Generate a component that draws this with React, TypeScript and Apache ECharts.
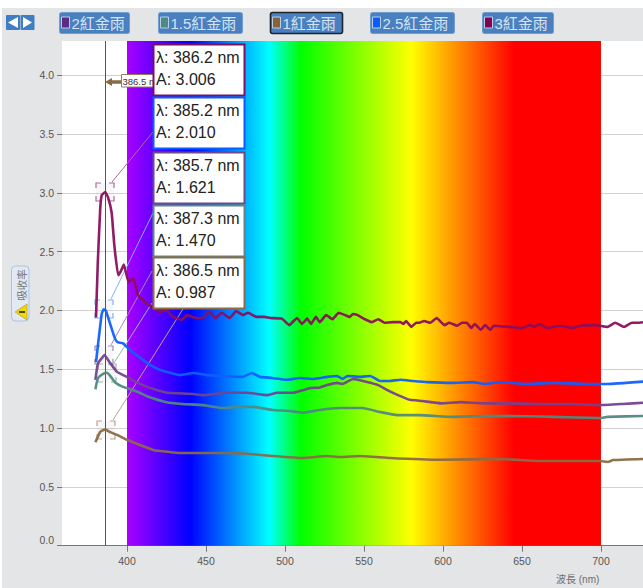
import React, { useEffect, useRef } from "react";
import * as echarts from "echarts";

const spectrumStart = 400;
const spectrumEnd = 700;
const xTicks = [400, 450, 500, 550, 600, 650, 700];
const yTicks = [0, 0.5, 1, 1.5, 2, 2.5, 3, 3.5, 4];
const cursorWavelength = 386.5;
const cursorLabel = "386.5 n";
const axisTitleX = "波長 (nm)";
const axisTitleY = "吸收率";

const seriesNames = ["2紅金雨", "1.5紅金雨", "1紅金雨", "2.5紅金雨", "3紅金雨"];

const rain3 = [
  [380.4, 1.94], [381.5, 2.4], [383, 2.85], [384, 2.98], [386.2, 3.006], [388, 2.96], [390.3, 2.83], [392, 2.55], [394.4, 2.3], [396, 2.33], [398, 2.39],
  [401, 2.24], [404, 2.27], [407, 2.13], [412.6, 2.06], [421, 1.99], [425, 2.0], [429, 1.945], [435, 1.92], [438, 1.96], [444, 1.935],
  [448, 1.935], [452, 1.99], [456, 1.935], [460, 1.98], [465, 1.935], [469, 1.995], [473.4, 1.96], [476.6, 1.98], [482, 1.945], [487, 1.945],
  [490.5, 1.935], [498, 1.93], [502.7, 1.875], [507.6, 1.935], [510.8, 1.885], [514, 1.93], [516.5, 1.885], [519.6, 1.945], [522, 1.9], [526, 1.96],
  [530, 1.925], [534, 1.98], [538, 1.96], [541, 1.945], [543, 1.97], [546, 1.96], [550.6, 1.925], [555, 1.9], [559, 1.925], [563, 1.895],
  [568, 1.9], [573, 1.9], [575, 1.885], [576.6, 1.91], [580, 1.86], [583, 1.895], [585, 1.895], [588, 1.91], [592, 1.895], [596, 1.935],
  [601, 1.875], [604, 1.895], [609, 1.87], [612, 1.895], [615, 1.895], [618, 1.85], [620, 1.885], [624, 1.835], [626.6, 1.875], [630, 1.835],
  [632, 1.87], [642, 1.86], [650, 1.85], [655, 1.875], [658, 1.86], [661, 1.885], [666, 1.85], [674, 1.87], [682, 1.85], [687, 1.87],
  [696, 1.875], [704, 1.86], [709, 1.895], [714.6, 1.86], [719.6, 1.895], [723, 1.895], [726.6, 1.9],
];

const rain25 = [
  [380.4, 1.56], [382, 1.75], [384, 1.97], [385.2, 2.01], [386.5, 2.0], [389, 1.9], [392.4, 1.76], [394, 1.73], [397.5, 1.72], [403, 1.65],
  [410, 1.58], [414.6, 1.537], [421, 1.494], [433.5, 1.45], [442, 1.468], [450.6, 1.45], [463, 1.44], [473, 1.435], [479, 1.468], [484, 1.435],
  [492, 1.426], [501, 1.41], [509.5, 1.426], [518, 1.417], [526.6, 1.435], [533, 1.443], [536.5, 1.417], [539.5, 1.443], [547.5, 1.435], [554, 1.443],
  [560, 1.4], [566, 1.4], [573, 1.41], [581, 1.4], [590, 1.39], [606, 1.384], [619, 1.39], [626.6, 1.375], [636, 1.39], [653, 1.375],
  [670, 1.384], [691, 1.375], [704, 1.375], [726.6, 1.395],
];

const rain2 = [
  [380, 1.41], [381.6, 1.55], [385, 1.61], [385.7, 1.621], [389, 1.56], [393.5, 1.48], [397.5, 1.45], [400, 1.435], [403, 1.41], [412.6, 1.35],
  [421, 1.315], [425, 1.3], [442, 1.29], [448, 1.28], [463, 1.3], [476, 1.3], [488.6, 1.28], [495, 1.3], [505, 1.3], [516, 1.34],
  [522, 1.345], [526.6, 1.365], [533, 1.384], [536.5, 1.375], [543, 1.417], [552.5, 1.39], [559, 1.365], [564.5, 1.325], [571.5, 1.28], [579, 1.24],
  [587, 1.23], [599, 1.21], [611, 1.22], [626.6, 1.21], [640, 1.21], [661, 1.205], [682, 1.205], [699, 1.195], [714, 1.205], [726.6, 1.215],
];

const rain15 = [
  [380, 1.33], [381.6, 1.425], [385.5, 1.465], [387.3, 1.47], [389, 1.45], [392.4, 1.39], [397.5, 1.35], [400, 1.34], [408, 1.3], [412.6, 1.27],
  [425, 1.22], [435, 1.205], [448, 1.195], [461, 1.17], [469.6, 1.18], [480, 1.18], [492, 1.154], [503, 1.145], [511.5, 1.13], [522, 1.154],
  [535, 1.17], [549, 1.17], [560, 1.137], [571, 1.11], [585, 1.11], [606, 1.095], [628, 1.103], [653, 1.1], [670, 1.095], [699, 1.085],
  [704, 1.095], [726.6, 1.103],
];

const rain1 = [
  [380, 0.88], [383, 0.967], [385.5, 0.985], [386.5, 0.987], [389, 0.967], [394, 0.94], [400, 0.9], [416.6, 0.814], [421, 0.805], [433.5, 0.788],
  [448, 0.788], [463, 0.788], [477.8, 0.78], [492, 0.763], [511, 0.745], [526.6, 0.763], [534.8, 0.754], [547.5, 0.763], [566.5, 0.745], [598, 0.73],
  [636, 0.737], [661, 0.72], [699, 0.72], [704.4, 0.712], [707.6, 0.728], [726.6, 0.737],
];

const peakWavelengths = [386.2, 385.2, 385.7, 387.3, 386.5];
const peakValues = [3.006, 2.01, 1.621, 1.47, 0.987];
const peakTexts = peakValues.map((v) => v.toFixed(3));

const lineColors = ["#74428f", "#4f8a80", "#8b6a45", "#0f5fff", "#8a0f5e"];
const swatchColors = ["#5f2a85", "#4f8a80", "#8a6238", "#0a5cff", "#85004f"];
const peakBorders = ["#7c1060", "#0a5cff", "#6b4a8a", "#5d8a80", "#8b6b4a"];
const peakGuides = ["#b06a98", "#7fb0ff", "#a08ab8", "#9ab8b0", "#b9a58e"];
const boxTops = [44, 97, 152, 205, 257];
const guideEnds = [[153, 132], [153, 213], [152, 271], [152, 303], [183, 309]];
const buttons = [
  { x: 59, w: 70, sel: false }, { x: 158, w: 84, sel: false }, { x: 270, w: 72, sel: true },
  { x: 370, w: 84, sel: false }, { x: 482, w: 71, sel: false },
];

const gridLeft = 62;
const gridTop = 41;
const gridW = 581;
const gridH = 504.7;
const FONT = "'Liberation Sans', Arial, sans-serif";
const CJK = "'Liberation Sans', 'Noto Sans CJK TC', sans-serif";

function renderPeak(params: any, api: any) {
  const i = params.dataIndex;
  const [cx, cy] = api.coord([api.value(0), api.value(1)]);
  const h = 9;
  const c = 5;
  const col = peakGuides[i];
  const s = { stroke: col, lineWidth: 1.2, fill: "none" };
  const x0 = Math.round(cx) - h;
  const x1 = Math.round(cx) + h;
  const y0 = Math.round(cy) - h;
  const y1 = Math.round(cy) + h;
  const corner = (p: number[][]) => ({ type: "polyline", shape: { points: p }, style: s, silent: true });
  return {
    type: "group",
    children: [
      { type: "rect", shape: { x: x0, y: y0, width: 2 * h, height: 2 * h }, style: { fill: "rgba(0,0,0,0.03)" } },
      corner([[x0, y0 + c], [x0, y0], [x0 + c, y0]]),
      corner([[x1 - c, y0], [x1, y0], [x1, y0 + c]]),
      corner([[x0, y1 - c], [x0, y1], [x0 + c, y1]]),
      corner([[x1 - c, y1], [x1, y1], [x1, y1 - c]]),
      { type: "line", shape: { x1: x1 - 2, y1: y0 - 1, x2: guideEnds[i][0], y2: guideEnds[i][1] }, style: { stroke: col, lineWidth: 1 } },
    ],
  };
}

function buildGraphics() {
  const el: any[] = [];
  const z = 60;
  el.push({ type: "rect", z, shape: { x: 6, y: 15, width: 14, height: 15, r: 1 }, style: { fill: "#3f7dc4" } });
  el.push({ type: "rect", z, shape: { x: 20.5, y: 15, width: 14, height: 15, r: 1 }, style: { fill: "#3f7dc4" } });
  el.push({ type: "polygon", z: z + 1, shape: { points: [[8, 22.5], [18, 17], [18, 28]] }, style: { fill: "#fff" } });
  el.push({ type: "polygon", z: z + 1, shape: { points: [[32, 22.5], [23, 17], [23, 28]] }, style: { fill: "#fff" } });
  seriesNames.forEach((name, i) => {
    const b = buttons[i];
    el.push({
      type: "rect", z,
      shape: { x: b.x + 0.5, y: 12.5, width: b.w, height: 21, r: 2 },
      style: { fill: "#4a80c0", stroke: b.sel ? "#1b2430" : "#6e9bd0", lineWidth: b.sel ? 1.6 : 1 },
    });
    el.push({
      type: "rect", z: z + 1,
      shape: { x: b.x + 2.5, y: 17, width: 8, height: 11 },
      style: { fill: swatchColors[i], stroke: "#b8cde6", lineWidth: 1 },
    });
    el.push({
      type: "text", z: z + 1, x: b.x + 12.5, y: 23,
      style: { text: name, fill: "#d6e3f3", font: `15px ${CJK}`, textVerticalAlign: "middle" },
    });
  });
  el.push({
    type: "rect", z,
    shape: { x: 11.5, y: 266, width: 17.5, height: 55, r: 4 },
    style: { fill: "#e2e9f2", stroke: "#a7c4e4", lineWidth: 1 },
  });
  el.push({
    type: "text", z: z + 1, x: 21, y: 285, rotation: Math.PI / 2,
    style: { text: axisTitleY, fill: "#777", font: "10.5px 'Noto Sans CJK TC'", textAlign: "center", textVerticalAlign: "middle" },
  });
  el.push({ type: "polygon", z: z + 1, shape: { points: [[15, 312], [27, 304], [27, 320]] }, style: { fill: "#f2da00", stroke: "#b8a64a", lineWidth: 0.8 } });
  el.push({ type: "line", z: z + 2, shape: { x1: 19, y1: 312, x2: 25, y2: 312 }, style: { stroke: "#222", lineWidth: 1.6 } });
  el.push({
    type: "text", z: z + 1, x: 556, y: 579,
    style: { text: axisTitleX, fill: "#6d6d6d", font: `10px ${CJK}`, textVerticalAlign: "middle" },
  });
  el.push({ type: "line", z, shape: { x1: 111, y1: 82, x2: 121, y2: 82 }, style: { stroke: "#8b6a45", lineWidth: 3.5 } });
  el.push({ type: "polygon", z, shape: { points: [[105, 82], [112, 78], [112, 86]] }, style: { fill: "#8b6a45" } });
  el.push({
    type: "rect", z,
    shape: { x: 121.5, y: 74.5, width: 40, height: 12.5 },
    style: { fill: "#fff", stroke: "#9a7a58", lineWidth: 1 },
  });
  el.push({
    type: "text", z: z + 1, x: 122.5, y: 81,
    style: { text: cursorLabel, fill: "#333", font: `9.5px ${FONT}`, textVerticalAlign: "middle" },
  });
  peakWavelengths.forEach((w, i) => {
    const top = boxTops[i];
    el.push({
      type: "rect", z: z + 5,
      shape: { x: 153.5, y: top + 0.5, width: 91, height: 51 },
      style: { fill: "#fff", stroke: peakBorders[i], lineWidth: 2 },
    });
    el.push({
      type: "text", z: z + 6, x: 156, y: top + 13,
      style: { text: `λ: ${w.toFixed(1)} nm`, fill: "#222", font: `16px ${FONT}`, textVerticalAlign: "middle" },
    });
    el.push({
      type: "text", z: z + 6, x: 156, y: top + 35,
      style: { text: `A: ${peakTexts[i]}`, fill: "#222", font: `16px ${FONT}`, textVerticalAlign: "middle" },
    });
  });
  return el;
}

export default function App() {
  const ref = useRef<HTMLDivElement>(null);
  useEffect(() => {
    const chart = echarts.init(ref.current!, null, { renderer: "svg" });
    const gradient = new echarts.graphic.LinearGradient(0, 0, 1, 0, [
      { offset: 0, color: "#aa00ff" },
      { offset: 40 / 300, color: "#0000ff" },
      { offset: 90 / 300, color: "#00ffff" },
      { offset: 110 / 300, color: "#00ff00" },
      { offset: 180 / 300, color: "#ffff00" },
      { offset: 245 / 300, color: "#ff0000" },
      { offset: 1, color: "#ff0000" },
    ]);
    const rows = [rain2, rain15, rain1, rain25, rain3];
    const lineSeries = seriesNames.map((name, i) => ({
      type: "line",
      name,
      data: rows[i],
      z: 5 + i,
      symbol: "none",
      smooth: 0.12,
      silent: true,
      clip: true,
      lineStyle: { color: lineColors[i], width: 2.6, opacity: 0.95 },
      itemStyle: { color: lineColors[i] },
    }));
    chart.setOption({
      animation: false,
      backgroundColor: "transparent",
      textStyle: { fontFamily: FONT },
      grid: {
        left: gridLeft, top: gridTop, width: gridW, height: gridH,
        show: true, backgroundColor: "#ffffff", borderWidth: 0, containLabel: false,
      },
      xAxis: {
        type: "value",
        min: 358.86,
        max: 726.6,
        axisLine: { show: true, onZero: false, lineStyle: { color: "#777", width: 1 } },
        axisTick: { show: true, length: 6, customValues: xTicks, lineStyle: { color: "#777" } },
        axisLabel: { customValues: xTicks, color: "#555", fontSize: 10.5, margin: 10, formatter: (v: number) => String(v) },
        splitLine: { show: false },
      },
      yAxis: {
        type: "value",
        min: 0,
        max: 4.29,
        axisLine: { show: false },
        axisTick: { show: true, length: 5, customValues: yTicks, lineStyle: { color: "#777" } },
        axisLabel: {
          customValues: yTicks, color: "#555", fontSize: 10.5, margin: 8,
          formatter: (v: number) => v.toFixed(1), verticalAlignMinLabel: "bottom",
        },
        splitLine: { show: true, lineStyle: { color: "#d2d2d2", width: 1 } },
      },
      series: [
        {
          type: "line",
          name: "spectrum",
          data: [[spectrumStart, 0]],
          z: 1,
          symbol: "none",
          silent: true,
          lineStyle: { opacity: 0 },
          markArea: {
            silent: true,
            itemStyle: { color: gradient, opacity: 1 },
            data: [[{ xAxis: spectrumStart, yAxis: 0 }, { xAxis: spectrumEnd, yAxis: 4.29 }]],
          },
          markLine: {
            silent: true,
            symbol: "none",
            label: { show: false },
            lineStyle: { color: "#555", width: 1, type: "solid" },
            data: [{ xAxis: cursorWavelength }],
          },
        },
        {
          type: "custom",
          name: "peaks",
          z: 3,
          silent: true,
          clip: false,
          encode: { x: 0, y: 1 },
          data: peakWavelengths.map((w, i) => [w, peakValues[i]]),
          renderItem: renderPeak,
        },
        ...lineSeries,
      ],
      graphic: { elements: buildGraphics() },
    });
    return () => chart.dispose();
  }, []);
  return (
    <div style={{ position: "absolute", left: 0, top: 0, width: 643, height: 588, background: "#fff", overflow: "hidden" }}>
      <div style={{ position: "absolute", left: 2, top: 8, width: 641, height: 580, background: "#e4e5e7" }} />
      <div ref={ref} style={{ position: "absolute", left: 0, top: 0, width: 643, height: 588 }} />
    </div>
  );
}
